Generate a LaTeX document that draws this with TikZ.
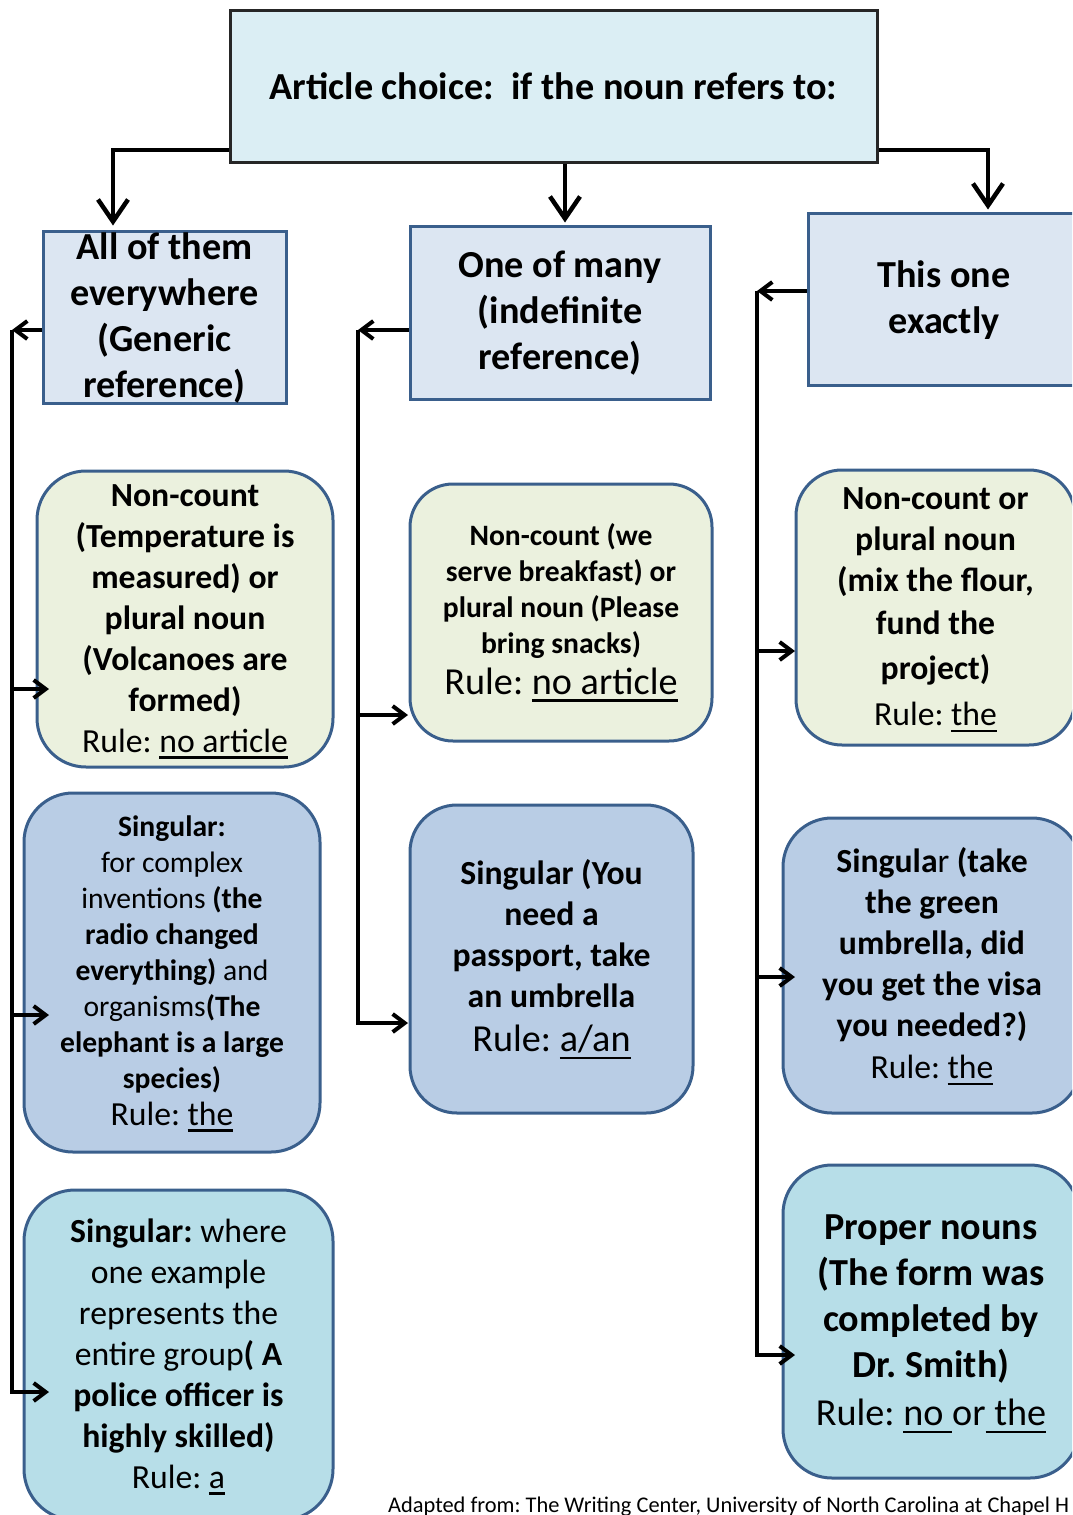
\documentclass[tikz,border=0pt]{standalone}
\usepackage{fontspec}
\setmainfont{Carlito}
\usetikzlibrary{arrows.meta}
\definecolor{titlefill}{HTML}{DBEEF4}
\definecolor{hdrfill}{HTML}{DCE6F2}
\definecolor{greenfill}{HTML}{EBF1DE}
\definecolor{bluefill}{HTML}{B9CDE5}
\definecolor{tealfill}{HTML}{B7DEE8}
\definecolor{edgeblue}{HTML}{3A5F8C}
\newcommand\sA{\fontsize{33.7}{41}\selectfont}
\newcommand\sB{\fontsize{38.2}{46}\selectfont}
\newcommand\sC{\fontsize{29.6}{36}\selectfont}
\newcommand\topstr{\rule{0pt}{0.9em}}
\newcommand\botstr{\rule[-0.3em]{0pt}{0pt}}
\newcommand\myul[1]{\setbox0=\hbox{#1}\rlap{\smash{\rule[-0.19em]{\wd0}{0.065em}}}\box0}
\tikzset{
  box/.style={draw=edgeblue, line width=3pt, inner sep=0pt, align=center},
  hdr/.style={box, fill=hdrfill},
  rbox/.style={box, rounded corners=#1},
  rbox/.default=45pt,
  conn/.style={draw=black, line width=4pt, line join=miter},
  bigarr/.style={conn, line width=4.5pt, -{Straight Barb[length=22pt, width=30pt]}},
  smallarr/.style={conn, -{Straight Barb[length=12pt, width=18pt]}},
}
\begin{document}
\frenchspacing
\begin{tikzpicture}[x=1pt, y=-1pt]
\useasboundingbox (0,0) rectangle (1072,1515);
\clip (0,0) rectangle (1072,1515);
% title
\node[draw=black!85, line width=3pt, fill=titlefill, inner sep=0pt, align=center,
      minimum width=647pt, minimum height=152pt, font=\sB\bfseries]
  (T) at (553.5,86) {Article choice:\hspace{0.452em}if the noun refers to:};
% level 2
\node[hdr, inner ysep=-10pt, minimum width=243pt, minimum height=172pt, font=\sB\bfseries]
  (A) at (164.5,317) {\topstr All of them\\everywhere\\(Generic\\reference)\botstr};
\node[hdr, minimum width=300pt, minimum height=173pt, font=\sB\bfseries]
  (B) at (560,312.5) {\topstr One of many\\(indefinite\\reference)\botstr};
\node[hdr, minimum width=272pt, minimum height=172pt, font=\sB\bfseries]
  (C) at (944,299) {\topstr This one\\exactly\botstr};
% left column
\node[rbox=49pt, fill=greenfill, minimum width=296pt, minimum height=296pt, font=\sA\bfseries]
  (L1) at (185,619) {\topstr Non-count\\(Temperature is\\measured) or\\plural noun\\(Volcanoes are\\formed)\\\mdseries Rule: \myul{no article}\botstr};
\node[rbox=49pt, fill=bluefill, minimum width=296pt, minimum height=359pt, font=\sC]
  (L2) at (172,972.5) {\bfseries\topstr Singular:\\\mdseries for complex\\\mdseries inventions \textbf{(the}\\\bfseries radio changed\\\mdseries\textbf{everything)} and\\\mdseries organisms\textbf{(The}\\\bfseries elephant is a large\\\bfseries species)\\[1pt]\fontsize{33.7}{36}\selectfont\mdseries Rule: \myul{the}\botstr};
\node[rbox=51pt, fill=tealfill, minimum width=309pt, minimum height=330pt, font=\sA]
  (L3) at (178.5,1355) {\topstr\textbf{Singular:} where\\one example\\represents the\\entire group\textbf{( A}\\\textbf{police officer is}\\\textbf{highly skilled)}\\Rule: \myul{a}\botstr};
% middle column
\node[rbox=43pt, fill=greenfill, minimum width=302pt, minimum height=257pt, font=\sC\bfseries]
  (M1) at (561,612.5) {\topstr Non-count (we\\serve breakfast) or\\plural noun (Please\\bring snacks)\\[5pt]\fontsize{38.2}{36}\selectfont\mdseries Rule: \myul{no article}\botstr};
\node[rbox=47pt, fill=bluefill, minimum width=283pt, minimum height=308pt, font=\sA\bfseries]
  (M2) at (551.5,959) {\topstr Singular (You\\need a\\passport, take\\an umbrella\\[3pt]\fontsize{38.2}{41}\selectfont\mdseries Rule: \myul{a/an}\botstr};
% right column
\node[rbox=46pt, fill=greenfill, minimum width=279pt, minimum height=275pt, font=\sA\bfseries]
  (R1) at (935.5,607.5) {\topstr Non-count or\\plural noun\\(mix the flour,\\[2pt]fund the\\[4pt]project)\\[5pt]\mdseries Rule: \myul{the}\botstr};
\node[rbox=49pt, fill=bluefill, minimum width=298pt, minimum height=295pt, font=\sA]
  (R2) at (932,965.5) {\topstr\textbf{Singula}r\textbf{ (take}\\\textbf{the green}\\\textbf{umbrella, did}\\\textbf{you get the visa}\\\textbf{you needed?)}\\[1pt]Rule: \myul{the}\botstr};
\node[rbox=49pt, fill=tealfill, minimum width=296pt, minimum height=313pt, font=\sB\bfseries]
  (R3) at (931,1321.5) {\topstr Proper nouns\\(The form was\\completed by\\Dr. Smith)\\[2pt]\mdseries Rule: \myul{no }or\myul{ the}\botstr};
% footer
\node[anchor=base west, inner sep=0pt, font=\fontsize{22.4}{27}\selectfont]
  (foot) at (388,1512) {Adapted from: The Writing Center, University of North Carolina at Chapel H};
% coordinates for connectors
\coordinate (tl) at (113,150);
\coordinate (tm) at (565,0);
\coordinate (tr) at (988,150);
\coordinate (lt) at (12,330);
\coordinate (lx) at (49,0);
\coordinate (mt) at (358,330);
\coordinate (mx) at (408,0);
\coordinate (rt) at (757,291);
\coordinate (rx) at (795,0);
% top connectors
\draw[bigarr, shorten >=4pt] (T.west |- tl) -- (tl) -- (tl |- A.north);
\draw[bigarr, shorten >=2pt] (tm |- T.south) -- (tm |- B.north);
\draw[bigarr, shorten >=2pt] (T.east |- tr) -- (tr) -- (tr |- C.north);
% left connectors
\draw[smallarr] (A.west |- lt) -- (lt);
\draw[smallarr] (lt) |- (lx |- 0,1392);
\draw[smallarr] (lt |- 0,689) -- (lx |- 0,689);
\draw[smallarr] (lt |- 0,1015) -- (lx |- 0,1015);
% middle connectors
\draw[smallarr] (B.west |- mt) -- (mt);
\draw[smallarr] (mt) |- (mx |- 0,1023);
\draw[smallarr] (mt |- 0,715) -- (mx |- 0,715);
% right connectors
\draw[smallarr] (C.west |- rt) -- (rt);
\draw[smallarr] (rt) |- (rx |- 0,1355);
\draw[smallarr] (rt |- 0,651) -- (rx |- 0,651);
\draw[smallarr] (rt |- 0,977) -- (rx |- 0,977);
\end{tikzpicture}
\end{document}
